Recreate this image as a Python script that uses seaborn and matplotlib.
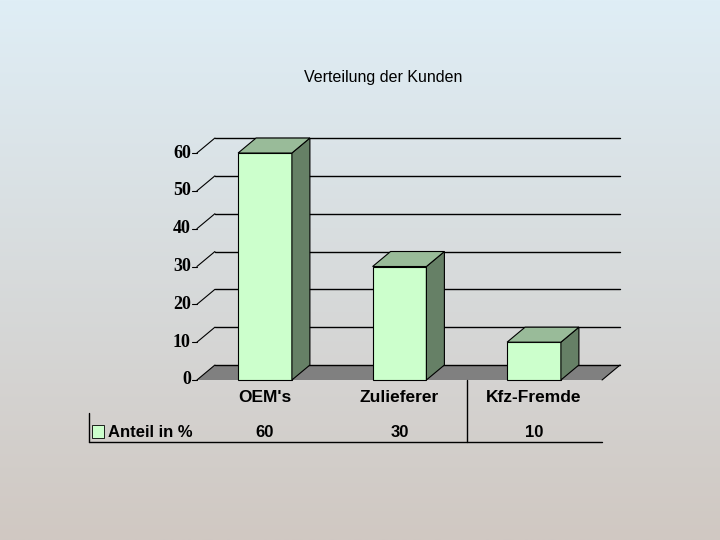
import numpy as np
import pandas as pd
import matplotlib
matplotlib.use("Agg")
import matplotlib.pyplot as plt
import seaborn as sns
from matplotlib.patches import Polygon, Rectangle

# data
categories = ["OEM's", "Zulieferer", "Kfz-Fremde"]
values = [60, 30, 10]
y_ticks = [0, 10, 20, 30, 40, 50, 60]
series_name = "Anteil in %"
title = "Verteilung der Kunden"

sns.set_style("white")
plt.rcParams['font.family'] = ['Liberation Sans', 'DejaVu Sans']
plt.rcParams['text.color'] = 'black'

df = pd.DataFrame({"Kategorie": categories, "Anteil": values})

# colours
front_col = "#CCFFCC"
side_col = "#668066"
top_col = "#99BB99"
floor_col = "#808080"

# layout: one axes over the whole figure, data units mapped to pixels
px_per_cat = 134.5
px_per_unit = 3.783
x0_px, y0_px = 265, 380
xlim = (-x0_px / px_per_cat, (720 - x0_px) / px_per_cat)
ylim = ((y0_px - 540) / px_per_unit, y0_px / px_per_unit)
dx = 18 / px_per_cat          # depth offset
dy = 15 / px_per_unit
left, right = -0.506, 2.506   # front edges of the floor

fig = plt.figure(figsize=(7.2, 5.4), dpi=100)
ax = fig.add_axes([0, 0, 1, 1])

# gradient background
top_rgb = np.array([223, 238, 246]) / 255
bot_rgb = np.array([208, 200, 194]) / 255
t = np.linspace(0, 1, 256)[:, None, None]
grad = top_rgb * (1 - t) + bot_rgb * t
ax.imshow(grad, extent=(xlim[0], xlim[1], ylim[0], ylim[1]), aspect='auto',
          origin='upper', zorder=0)

# front faces of the bars
sns.barplot(data=df, x="Kategorie", y="Anteil", width=0.4, color=front_col,
            saturation=1, edgecolor="black", linewidth=0.8, zorder=3, ax=ax)

# floor
ax.add_patch(Polygon([(left, 0), (right, 0), (right + dx, dy), (left + dx, dy)],
                     closed=True, fc=floor_col, ec='none', zorder=1))
ax.plot([right, right + dx], [0, dy], color='black', lw=0.8, zorder=1.2)

# back wall gridlines + left wall diagonals + ticks
for v in y_ticks:
    ax.plot([left + dx, right + dx], [v + dy, v + dy], color='black', lw=1, zorder=1.5)
    ax.plot([left, left + dx], [v, v + dy], color='black', lw=0.8, zorder=1.5)
    ax.plot([left - 0.035, left], [v, v], color='black', lw=0.8, zorder=1.5)
    ax.text(left - 0.045, v, str(v), ha='right', va='center', fontsize=13,
            fontweight='bold', family=['Liberation Serif', 'DejaVu Serif'])

# 3d sides and tops derived from the seaborn bars
for p in ax.patches:
    if not isinstance(p, Rectangle):
        continue
    x, w, h = p.get_x(), p.get_width(), p.get_height()
    if w > 1:
        continue
    ax.add_patch(Polygon([(x + w, 0), (x + w + dx, dy), (x + w + dx, h + dy), (x + w, h)],
                         closed=True, fc=side_col, ec='black', lw=0.8, zorder=3))
    ax.add_patch(Polygon([(x, h), (x + w, h), (x + w + dx, h + dy), (x + dx, h + dy)],
                         closed=True, fc=top_col, ec='black', lw=0.8, zorder=3))

# category labels and data table
for i, (cat, val) in enumerate(zip(categories, values)):
    ax.text(i, -4.5, cat, ha='center', va='center', fontsize=12.5, fontweight='bold')
    ax.text(i, -13.75, str(val), ha='center', va='center', fontsize=12, fontweight='bold')

ax.add_patch(Rectangle((-1.286, -15.3), 0.089, 3.4, fc=front_col, ec='black', lw=0.6, zorder=3))
ax.text(-1.167, -13.75, series_name, ha='left', va='center', fontsize=12, fontweight='bold')

ax.plot([-1.309, -1.309], [-8.7, -16.4], color='black', lw=1)
ax.plot([-1.309, right], [-16.4, -16.4], color='black', lw=1)
ax.plot([1.502, 1.502], [0, -16.4], color='black', lw=1)

ax.set_xlim(*xlim)
ax.set_ylim(*ylim)
ax.axis('off')

fig.text(383 / 720, 1 - 78 / 540, title, ha='center', va='center', fontsize=11.5,
         color='black')

fig.savefig("out.png", dpi=100)
